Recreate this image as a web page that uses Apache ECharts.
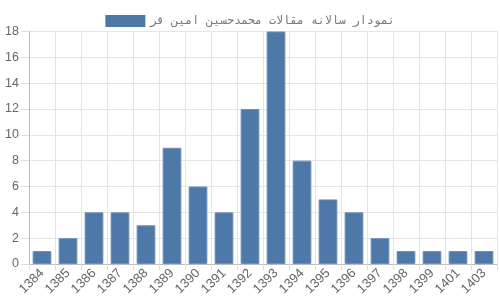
<!DOCTYPE html>
<html><head><meta charset="utf-8">
<script src="https://cdn.jsdelivr.net/npm/echarts@6/dist/echarts.min.js"></script>
<style>html,body{margin:0;padding:0;background:#fff}#c{width:500px;height:300px}</style>
</head><body><div id="c"></div>
<script>
const categories = ['1384','1385','1386','1387','1388','1389','1390','1391','1392','1393','1394','1395','1396','1397','1398','1399','1401','1403'];
const values = [1,2,4,4,3,9,6,4,12,18,8,5,4,2,1,1,1,1];
const seriesName = 'نمودار سالانه مقالات محمدحسین امین فر';
const yTicks = {min:0, max:18, interval:2};

const chart = echarts.init(document.getElementById('c'), null, {renderer:'canvas'});
chart.setOption({
  animation:false,
  legend:{
    data:[seriesName], top:10, left:'center', itemWidth:40, itemHeight:12, itemGap:6,
    textStyle:{fontFamily:'DejaVu Sans Mono', fontSize:11.6, color:'#777'},
    icon:'rect', itemStyle:{borderWidth:0}
  },
  grid:{left:29, right:3, top:31.5, bottom:36, containLabel:false},
  xAxis:{
    type:'category', data:categories, boundaryGap:true,
    axisLine:{show:true, lineStyle:{color:'#bbb'}},
    axisTick:{show:true, length:6, lineStyle:{color:'#ddd'}},
    splitLine:{show:true, lineStyle:{color:'#e5e5e5'}},
    axisLabel:{rotate:45, color:'#666', fontFamily:'Liberation Sans', fontSize:13, margin:7, interval:0}
  },
  yAxis:{
    type:'value', min:yTicks.min, max:yTicks.max, interval:yTicks.interval,
    axisLine:{show:true, lineStyle:{color:'#bbb'}},
    axisTick:{show:true, length:8, lineStyle:{color:'#ddd'}},
    splitLine:{show:true, lineStyle:{color:'#e5e5e5'}},
    axisLabel:{color:'#666', fontFamily:'Liberation Sans', fontSize:12.5, margin:10}
  },
  series:[{
    name:seriesName, type:'bar', data:values, barCategoryGap:'28%',
    itemStyle:{color:'#4e78a8', borderColor:'#6a8fbb', borderWidth:1}
  }]
});
</script></body></html>
